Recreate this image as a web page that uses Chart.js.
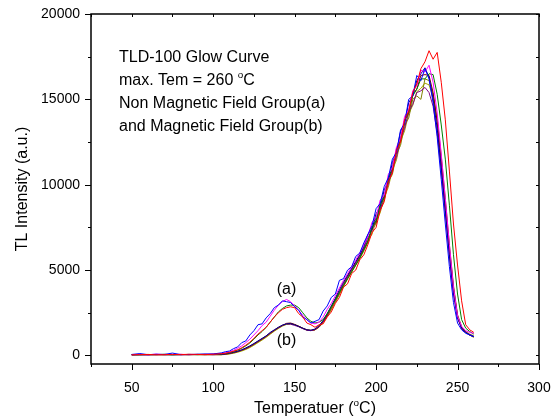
<!DOCTYPE html>
<html>
<head>
<meta charset="utf-8">
<script src="https://cdn.jsdelivr.net/npm/chart.js"></script>
<style>
  html, body { margin: 0; padding: 0; background: #fff; }
  #wrap { width: 560px; height: 419px; }
</style>
</head>
<body>
<div id="wrap"><canvas id="glow"></canvas></div>
<script>
// Temperature grid (°C) shared by every glow curve
const temps = [50,55,60,65,70,75,80,85,90,95,100,
  105,107.5,110,112.5,115,117.5,120,122.5,125,127.5,130,132.5,135,137.5,140,142.5,145,147.5,
  150,152.5,155,157.5,160,162.5,165,167.5,170,172.5,175,177.5,180,182.5,185,187.5,190,192.5,
  195,197.5,200,202.5,205,207.5,210,212.5,215,217.5,220,222.5,225,227.5,230,232.5,235,237.5,
  240,242.5,245,247.5,250,252.5,255,257.5,260];

// axis ticks
const xTicks = [25,50,75,100,125,150,175,200,225,250,275,300];
const yTicks = [0,2500,5000,7500,10000,12500,15000,17500,20000];

// Group (a) - no magnetic field
const blueA = [60,110,50,70,60,140,50,60,70,80,90,
  150,220,260,400,500,750,850,1200,1450,1800,1850,2200,2450,2800,2950,3200,3150,3100,
  2850,2650,2250,2100,1900,2000,2100,2600,2900,3400,3600,4400,4500,5000,5200,5800,6000,6600,
  7100,7600,8600,8900,9900,10400,11500,11900,13200,13600,15000,15200,16400,16100,16800,16200,14800,12800,
  10300,7700,5200,3100,1900,1500,1300,1200,1100];
const magentaA = [50,60,40,80,50,60,70,50,60,70,80,
  120,160,220,300,420,560,750,950,1200,1450,1750,1950,2300,2650,2950,3150,3280,3150,
  2900,2650,2350,2100,1900,1850,1950,2250,2700,3050,3500,3950,4400,4800,5200,5600,6000,6500,
  7000,7800,8100,9100,9400,10600,11000,12200,12700,14000,14400,15500,15800,16700,16600,17000,16000,14200,
  11800,9200,6500,4000,2300,1700,1450,1350,1300];
const redA = [40,50,60,40,50,60,50,70,60,50,70,
  100,130,180,250,330,450,600,780,1000,1250,1450,1650,1950,2250,2500,2700,2800,2850,
  2800,2450,2250,1900,1800,1650,1800,1850,2250,2550,3050,3400,4000,4200,4800,5000,5600,5900,
  6500,7200,7500,8500,9000,10200,10700,12000,12500,13800,14300,15400,15900,16800,17200,17850,17350,17750,
  16000,13800,10800,7700,5300,3200,1800,1500,1350];
const greenA = [50,40,60,50,70,40,60,50,60,70,60,
  90,120,170,230,310,420,560,730,950,1200,1400,1650,1950,2250,2550,2750,2900,2950,
  2950,2800,2500,2200,2000,1900,1950,2100,2450,2850,3250,3700,4100,4500,4900,5300,5700,6200,
  6700,7500,7900,8800,9300,10400,11000,12000,12700,13700,14300,15200,15600,16200,16200,16500,16450,15300,
  13500,11500,8800,5900,3600,2100,1600,1400,1250];

// Group (b) - magnetic field
const navyB = [40,50,40,60,50,40,50,60,50,60,50,
  70,100,140,190,250,330,440,560,700,850,1000,1150,1350,1500,1650,1780,1850,1870,
  1800,1700,1600,1500,1480,1550,1750,2050,2450,2900,3350,3850,4300,4700,5100,5500,5900,6400,
  7100,7400,8300,8700,9700,10200,11300,11900,13100,13600,14800,15200,16100,16500,16850,16300,15000,13300,
  11000,8500,5900,3700,2200,1600,1350,1200,1100];
const purpleB = [50,40,50,40,60,50,40,50,60,50,60,
  60,90,130,180,240,320,420,540,680,830,980,1130,1320,1480,1640,1760,1850,1830,
  1760,1680,1570,1480,1450,1520,1700,2000,2400,2850,3300,3750,4200,4650,5050,5450,5850,6300,
  6900,7300,8100,8500,9400,10000,11000,11600,12700,13300,14300,14700,15400,15500,15700,15400,14600,13000,
  10800,8300,5800,3600,2200,1600,1350,1200,1100];
const wineB = [30,50,40,50,40,60,50,40,60,50,40,
  50,80,120,170,230,310,400,520,660,810,960,1120,1300,1470,1620,1760,1880,1900,
  1820,1720,1600,1500,1460,1500,1680,1980,2350,2800,3250,3700,4150,4600,5000,5400,5800,6250,
  6700,7500,7800,8900,9200,10400,10800,12100,12600,13800,14200,15300,15600,16400,16450,16400,15400,13700,
  11400,8900,6200,3900,2300,1600,1350,1200,1100];
const oliveB = [40,40,50,50,40,50,60,50,40,50,60,
  50,70,100,150,210,290,380,500,640,790,940,1100,1280,1450,1600,1740,1830,1860,
  1800,1700,1580,1490,1470,1510,1680,1950,2300,2700,3150,3600,4050,4500,4900,5300,5700,6150,
  6600,7400,7700,8600,9100,10200,10600,11800,12300,13500,13900,15000,15200,15000,16200,16100,15300,13900,
  11700,9200,6500,4100,2400,1700,1400,1250,1150];
const yellowB = [50,60,40,50,50,40,50,60,50,40,50,
  40,60,90,130,190,260,350,460,600,750,900,1060,1240,1420,1580,1720,1820,1850,
  1800,1700,1590,1500,1470,1500,1650,1920,2280,2680,3120,3580,4030,4480,4880,5280,5680,6120,
  6750,7100,7900,8350,9250,9850,10850,11450,12550,13150,14150,14650,15450,15650,15950,15850,15100,13700,
  11500,9000,6300,4000,2300,1650,1350,1200,1050];

const seriesList = [
  { name: 'a-red', values: redA, color: '#ff0000' },
  { name: 'a-blue', values: blueA, color: '#0000ff' },
  { name: 'a-magenta', values: magentaA, color: '#ff00ff' },
  { name: 'a-green', values: greenA, color: '#008000' },
  { name: 'b-navy', values: navyB, color: '#000080' },
  { name: 'b-purple', values: purpleB, color: '#800080' },
  { name: 'b-wine', values: wineB, color: '#800000' },
  { name: 'b-olive', values: oliveB, color: '#808000' },
  { name: 'b-yellow', values: yellowB, color: '#a8a800' }
];

const notes = ['TLD-100 Glow Curve', 'max. Tem = 260 |C', 'Non Magnetic Field Group(a)', 'and Magnetic Field Group(b)'];
const FONT = '"Liberation Sans", Arial, sans-serif';

// draws text where "|" marks a superscript "o"
function drawSup(ctx, text, x, y, size) {
  const parts = text.split('|');
  let cx = x;
  parts.forEach((p, i) => {
    if (i > 0) {
      ctx.font = `${size * 0.62}px ${FONT}`;
      ctx.fillText('o', cx, y - size * 0.38);
      cx += ctx.measureText('o').width;
    }
    ctx.font = `${size}px ${FONT}`;
    ctx.fillText(p, cx, y);
    cx += ctx.measureText(p).width;
  });
  return cx - x;
}

function supWidth(ctx, text, size) {
  const parts = text.split('|');
  let w = 0;
  parts.forEach((p, i) => {
    if (i > 0) { ctx.font = `${size * 0.62}px ${FONT}`; w += ctx.measureText('o').width; }
    ctx.font = `${size}px ${FONT}`;
    w += ctx.measureText(p).width;
  });
  return w;
}

const framePlugin = {
  id: 'frame',
  afterDraw(chart) {
    const { ctx, chartArea: a } = chart;
    const xs = chart.scales.x, ys = chart.scales.y;
    ctx.save();
    ctx.strokeStyle = '#000';
    ctx.lineWidth = 1.5;
    ctx.strokeRect(a.left, a.top, a.right - a.left, a.bottom - a.top);

    ctx.lineWidth = 1;
    ctx.beginPath();
    yTicks.forEach(v => {
      const y = Math.round(ys.getPixelForValue(v)) + 0.5;
      const len = v % 5000 === 0 ? 6 : 3;
      ctx.moveTo(a.left - len, y); ctx.lineTo(a.left, y);
      ctx.moveTo(a.right, y); ctx.lineTo(a.right - 3, y);
    });
    xTicks.forEach(v => {
      const x = Math.round(xs.getPixelForValue(v)) + 0.5;
      const len = v % 50 === 0 ? 6 : 3;
      ctx.moveTo(x, a.bottom); ctx.lineTo(x, a.bottom + len);
      ctx.moveTo(x, a.top); ctx.lineTo(x, a.top + 3);
    });
    ctx.stroke();

    // annotation block
    ctx.fillStyle = '#000';
    ctx.textBaseline = 'middle';
    ctx.textAlign = 'left';
    notes.forEach((line, i) => drawSup(ctx, line, a.left + 28, a.top + 44 + i * 23, 16));

    // group labels
    ctx.font = `16px ${FONT}`;
    ctx.textAlign = 'center';
    ctx.fillText('(a)', xs.getPixelForValue(145), ys.getPixelForValue(3830));
    ctx.fillText('(b)', xs.getPixelForValue(145), ys.getPixelForValue(900));

    // x axis title with superscript
    ctx.textAlign = 'left';
    const title = 'Temperatuer (|C)';
    const w = supWidth(ctx, title, 16);
    drawSup(ctx, title, (a.left + a.right) / 2 - w / 2, 409, 16);
    ctx.restore();
  }
};

new Chart(document.getElementById('glow'), {
  type: 'line',
  data: {
    datasets: seriesList.map(s => ({
      label: s.name,
      data: temps.map((t, i) => ({ x: t, y: s.values[i] })),
      borderColor: s.color,
      borderWidth: 1,
      pointRadius: 0,
      tension: 0,
      fill: false
    }))
  },
  options: {
    responsive: true,
    maintainAspectRatio: false,
    animation: false,
    layout: { padding: { left: 0, right: 21, top: 14, bottom: 0 } },
    plugins: { legend: { display: false }, tooltip: { enabled: false } },
    scales: {
      x: {
        type: 'linear',
        min: 25,
        max: 300,
        grid: { display: false },
        border: { display: false },
        afterBuildTicks: s => { s.ticks = xTicks.map(v => ({ value: v })); },
        ticks: {
          padding: 8,
          color: '#000',
          font: { family: FONT, size: 14 },
          maxRotation: 0,
          autoSkip: false,
          callback: v => (v % 50 === 0 ? String(v) : '')
        },
        afterFit: s => { s.height = 55; s.paddingLeft = 0; s.paddingRight = 0; }
      },
      y: {
        min: -500,
        max: 20000,
        grid: { display: false },
        border: { display: false },
        title: {
          display: true,
          text: 'TL Intensity (a.u.)',
          color: '#000',
          font: { family: FONT, size: 16 },
          padding: { top: 13 }
        },
        afterBuildTicks: s => { s.ticks = yTicks.map(v => ({ value: v })); },
        ticks: {
          padding: 3,
          color: '#000',
          font: { family: FONT, size: 14 },
          autoSkip: false,
          callback: v => (v % 5000 === 0 ? String(v) : '')
        },
        afterFit: s => { s.width = 91; s.paddingTop = 0; s.paddingBottom = 0; }
      }
    }
  },
  plugins: [framePlugin]
});
</script>
</body>
</html>
